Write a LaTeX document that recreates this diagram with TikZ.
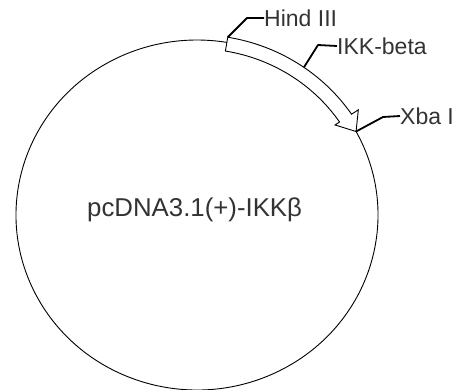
\documentclass[tikz,border=0pt]{standalone}
\usepackage{fontspec}
\setmainfont{Liberation Sans}
\begin{document}
\begin{tikzpicture}[x=1pt,y=1pt,
  lbl/.style={anchor=west, inner sep=0pt, font=\fontsize{23}{27}\selectfont, text=black!80},
  biglbl/.style={lbl, font=\fontsize{25.8}{30}\selectfont},
  leader/.style={line width=1.8pt, line join=round},
  thinline/.style={line width=0.9pt, line join=miter}]
\useasboundingbox (0,0) rectangle (463,389);
\coordinate (c) at (197,174);
% key points on/around the plasmid
\path (c) ++(28.5:181pt and 175pt) coordinate (tip);
\path (c) ++(80.5:186.4pt and 180.25pt) coordinate (o1);
\path (c) ++(34:186.4pt and 180.25pt) coordinate (o2);
\path (c) ++(34:194.6pt and 188.1pt) coordinate (ob);
\path (c) ++(34:166.5pt and 161pt) coordinate (ib);
\path (c) ++(34:171.95pt and 166.25pt) coordinate (i2);
\path (c) ++(55:186.4pt and 180.25pt) coordinate (ikkpt);
% plasmid backbone
\draw[thinline] (tip) arc[start angle=28.5, end angle=-279.5, x radius=181pt, y radius=175pt];
% IKK-beta insert arrow
\draw[thinline] (o1) arc[start angle=80.5, end angle=34, x radius=186.4pt, y radius=180.25pt]
  -- (ob) -- (tip) -- (ib) -- (i2)
  arc[start angle=34, end angle=80.5, x radius=171.95pt, y radius=166.25pt] -- cycle;
% labels
\node[lbl] (hind) at (264,371) {Hind III};
\node[lbl] (ikk) at (337,343) {IKK-beta};
\node[lbl] (xba) at (400,273) {Xba I};
\node[biglbl] (name) at (87,179) {pcDNA3.1(+)-IKKβ};
% leaders
\draw[leader] (o1) -- (247,371) -- (hind.west);
\draw[leader] (ikkpt) -- (318,344) -- (ikk.west);
\draw[leader] (tip) -- (383,272) -- (xba.west);
\end{tikzpicture}
\end{document}
